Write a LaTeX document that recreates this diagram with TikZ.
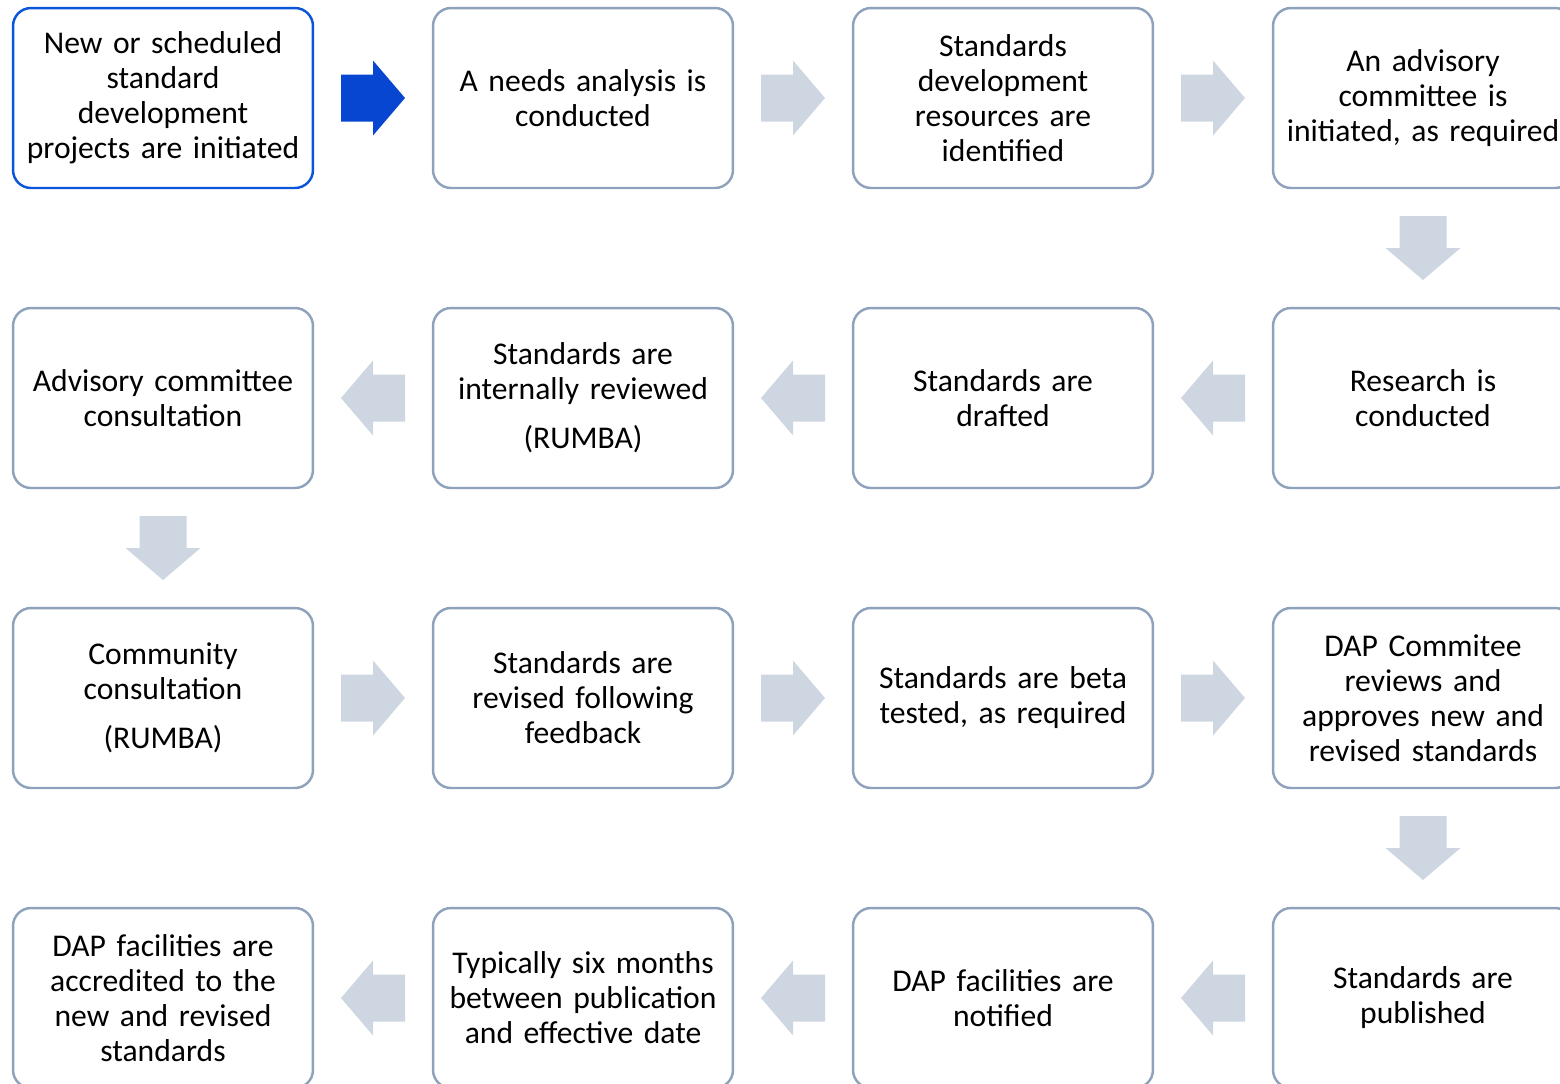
\documentclass[tikz,border=0pt]{standalone}
\usepackage{fontspec}
\setmainfont{Carlito}
\usetikzlibrary{positioning,calc}
\definecolor{boxline}{HTML}{8EA2BC}
\definecolor{startline}{HTML}{0B55D9}
\definecolor{startarrow}{HTML}{0646D1}
\definecolor{steparrow}{HTML}{CDD6E1}

\begin{document}
\begin{tikzpicture}[x=0.02cm, y=-0.02cm,
stage/.style = {draw=boxline, line width=1.4pt, rounded corners=0.36cm, minimum width=6cm, minimum height=3.6cm, text width=5.9cm, align=center, inner sep=0pt, font=\fontsize{18}{19.9}\selectfont},
start/.style = {stage, draw=startline},
arrowfill/.style = {fill=steparrow},
flow/.pic = {\fill[arrowfill] (-32,-23.5) -- (0,-23.5) -- (0,-37.5) -- (32,0) -- (0,37.5) -- (0,23.5) -- (-32,23.5) -- cycle;}]
\useasboundingbox (0,0) rectangle (1560,1083);
\clip (0,0) rectangle (1560,1083);
\def\gap{0.28cm}
% first row
\node[start] (a1) at (163,98) {New or scheduled\\standard\\development\\projects are initiated};
\node[stage] (a2) at (583,98) {A needs analysis is\\conducted};
\node[stage] (a3) at (1003,98) {Standards\\development\\resources are\\identified};
\node[stage] (a4) at (1423,98) {An advisory\\committee is\\initiated, as required};
% second row
\node[stage] (b4) at (1423,398) {Research is\\conducted};
\node[stage] (b3) at (1003,398) {Standards are\\drafted};
\node[stage] (b2) at (583,398) {Standards are\\internally reviewed\\[\gap](RUMBA)};
\node[stage] (b1) at (163,398) {Advisory committee\\consultation};
% third row
\node[stage] (c1) at (163,698) {Community\\consultation\\[\gap](RUMBA)};
\node[stage] (c2) at (583,698) {Standards are\\revised following\\feedback};
\node[stage] (c3) at (1003,698) {Standards are beta\\tested, as required};
\node[stage] (c4) at (1423,698) {DAP Commitee\\reviews and\\approves new and\\revised standards};
% fourth row
\node[stage] (d4) at (1423,998) {Standards are\\published};
\node[stage] (d3) at (1003,998) {DAP facilities are\\notified};
\node[stage] (d2) at (583,998) {Typically six months\\between publication\\and effective date};
\node[stage] (d1) at (163,998) {DAP facilities are\\accredited to the\\new and revised\\standards};

% block arrows
\pic[arrowfill/.style={fill=startarrow}] at ($(a1.east)!0.5!(a2.west)$) {flow};
\pic at ($(a2.east)!0.5!(a3.west)$) {flow};
\pic at ($(a3.east)!0.5!(a4.west)$) {flow};
\pic[rotate=-90] at ($(a4.south)!0.5!(b4.north)$) {flow};
\pic[rotate=180] at ($(b4.west)!0.5!(b3.east)$) {flow};
\pic[rotate=180] at ($(b3.west)!0.5!(b2.east)$) {flow};
\pic[rotate=180] at ($(b2.west)!0.5!(b1.east)$) {flow};
\pic[rotate=-90] at ($(b1.south)!0.5!(c1.north)$) {flow};
\pic at ($(c1.east)!0.5!(c2.west)$) {flow};
\pic at ($(c2.east)!0.5!(c3.west)$) {flow};
\pic at ($(c3.east)!0.5!(c4.west)$) {flow};
\pic[rotate=-90] at ($(c4.south)!0.5!(d4.north)$) {flow};
\pic[rotate=180] at ($(d4.west)!0.5!(d3.east)$) {flow};
\pic[rotate=180] at ($(d3.west)!0.5!(d2.east)$) {flow};
\pic[rotate=180] at ($(d2.west)!0.5!(d1.east)$) {flow};
\end{tikzpicture}
\end{document}
